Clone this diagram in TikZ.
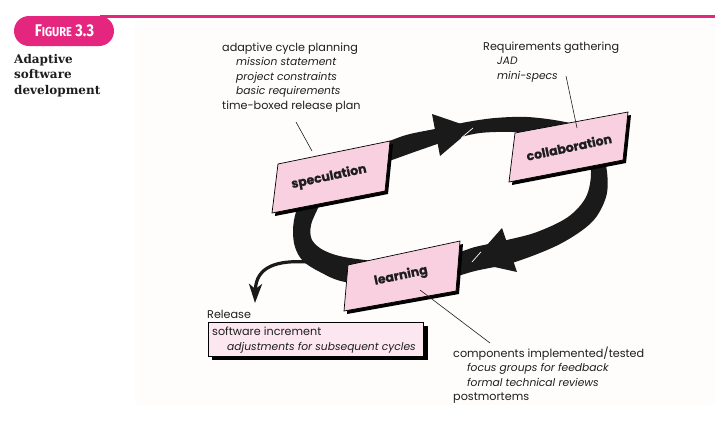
\documentclass[tikz,border=0pt]{standalone}
\usepackage{fontspec}
\setmainfont{Poppins}
\newfontfamily\figfont{Fira Sans}
\newfontfamily\titlefont{DejaVu Serif}
\newfontfamily\labelfont{Poppins}[UprightFeatures={FakeBold=0.8}, BoldFeatures={FakeBold=0.6}]
\usetikzlibrary{arrows.meta,calc}
\definecolor{magentaF}{HTML}{E5267F}
\definecolor{boxpink}{HTML}{F9D0E0}
\definecolor{relpink}{HTML}{FCE6EF}
\definecolor{bandblack}{HTML}{1A1A1A}
\definecolor{pagebg}{HTML}{FEFDFC}
\definecolor{textc}{HTML}{1E1E1E}
\tikzset{
  txt/.style={anchor=base west, inner sep=0pt, text=textc, font=\fontsize{11.2}{13}\selectfont},
  itxt/.style={anchor=base west, inner sep=0pt, text=textc, font=\fontsize{10.7}{13}\selectfont\itshape},
  boxlabel/.style={inner sep=0pt, rotate=12, text=textc, font=\labelfont\fontsize{12.5}{14}\selectfont\bfseries},
  leader/.style={draw=textc, line width=0.6pt},
  paraframe/.style={fill=boxpink, draw=black, line width=0.7pt},
  shadowfill/.style={fill=black},
  titletxt/.style={anchor=base west, inner sep=0pt, text=textc, font=\titlefont\fontsize{12}{13}\selectfont\bfseries},
}
\begin{document}
\begin{tikzpicture}[x=1pt,y=-1pt]
\useasboundingbox (0,0) rectangle (723,421);
\fill[white] (0,0) rectangle (723,421);
\fill[pagebg] (135,20) rectangle (715,405);

% header
\draw[magentaF, line width=2.4pt] (100,16.5) -- (715,16.5);
\fill[magentaF, rounded corners=15pt] (14,16) rectangle (114,46);
\node[inner sep=0pt, text=white, font=\figfont\bfseries, xscale=0.85] (fig) at (64.5,31)
  {\fontsize{17}{17}\selectfont F\fontsize{13}{17}\selectfont IGURE\fontsize{17}{17}\selectfont{} 3.3};
\node[titletxt] (t1) at (14,63) {Adaptive};
\node[titletxt] (t2) at (14,78.5) {software};
\node[titletxt] (t3) at (14,94) {development};

% release arrow (under the band)
\coordinate (relstart) at (308,262);
\coordinate (reltip) at (255,303);
\draw[bandblack, line width=3.2pt, -{Stealth[length=19pt,width=13pt,inset=5pt]}]
  (relstart) .. controls (278,260) and (256,266) .. (reltip);

% cycle band
\fill[bandblack, even odd rule]
  plot[smooth cycle, tension=0.55] coordinates {
    (305,195) (296,212) (293,230) (295,247) (303,261) (320,272) (345,282)
    (400,288) (450,278) (475,271) (515,262) (560,244) (592,222) (606,197)
    (607,172) (600,145) (585,128) (560,121) (527,117) (495,118) (467,122)
    (440,128) (410,134) (392,140) (340,160)}
  plot[smooth cycle, tension=0.55] coordinates {
    (325,192) (318,208) (311,225) (312,240) (325,251) (350,258) (400,262)
    (455,253) (475,247) (507,240) (537,232) (568,217) (586,197) (591,172)
    (585,152) (565,138) (540,134) (513,132) (480,133) (450,140) (420,150)
    (392,160) (350,175)};

% arrowheads
\coordinate (ah1tip) at (473,128);
\coordinate (ah1a) at (432,114);
\coordinate (ah1b) at (440,156);
\fill[bandblack] (ah1a) -- (ah1tip) -- (ah1b) -- cycle;
\draw[white, line width=0.7pt] (ah1tip) -- ($(ah1tip)!0.35!(ah1b)$);
\coordinate (ah2tip) at (472,262);
\coordinate (ah2a) at (502,228);
\coordinate (ah2b) at (517,272);
\fill[bandblack] (ah2a) -- (ah2tip) -- (ah2b) -- cycle;
\draw[white, line width=0.7pt] (ah2tip) -- ($(ah2tip)!0.3!(ah2a)$);

% speculation box
\fill[shadowfill] (281,167) -- (393,144) -- (388,194) -- (275,216) -- cycle;
\draw[paraframe] (278,164) -- (390,141) -- (385,191) -- (272,213) -- cycle;
\node[boxlabel] (spec) at (329,177) {speculation};

% collaboration box
\fill[shadowfill] (518,136) -- (631,115) -- (626,163) -- (512,185) -- cycle;
\draw[paraframe] (515,133) -- (628,112) -- (623,160) -- (509,182) -- cycle;
\node[boxlabel] (coll) at (569,147) {collaboration};

% learning box
\fill[shadowfill] (351,268) -- (463,244) -- (459,294) -- (347,314) -- cycle;
\draw[paraframe] (348,265) -- (460,241) -- (456,291) -- (344,311) -- cycle;
\node[boxlabel] (learn) at (401,276) {learning};

% top-left annotation
\node[txt]  (a1) at (222,51)   {adaptive cycle planning};
\node[itxt] (a2) at (236,65.5) {mission statement};
\node[itxt] (a3) at (236,80)   {project constraints};
\node[itxt] (a4) at (236,94.5) {basic requirements};
\node[txt]  (a5) at (222,109)  {time-boxed release plan};
\coordinate (specleadA) at (296,122);
\coordinate (specleadB) at (312,151);
\draw[leader] (specleadA) -- (specleadB);

% top-right annotation
\node[txt]  (r1) at (483,50)   {Requirements gathering};
\node[itxt] (r2) at (497,64.5) {JAD};
\node[itxt] (r3) at (497,79)   {mini-specs};
\coordinate (collleadA) at (566,76);
\coordinate (collleadB) at (577,128);
\draw[leader] (collleadA) -- (collleadB);

% bottom-right annotation
\node[txt]  (c1) at (453,357)   {components implemented/tested};
\node[itxt] (c2) at (467,371.5) {focus groups for feedback};
\node[itxt] (c3) at (467,386)   {formal technical reviews};
\node[txt]  (c4) at (453,400.5) {postmortems};
\coordinate (learnleadA) at (420,290);
\coordinate (learnleadB) at (490,343);
\draw[leader] (learnleadA) -- (learnleadB);

% release
\node[txt] (rel) at (207,318) {Release};
\fill[shadowfill] (212,326) rectangle (428,360);
\draw[fill=relpink, draw=black, line width=0.7pt] (208,322) rectangle (423,356);
\node[txt]  (s1) at (212,335.5) {software increment};
\node[itxt] (s2) at (227,350)   {adjustments for subsequent cycles};
\end{tikzpicture}
\end{document}
